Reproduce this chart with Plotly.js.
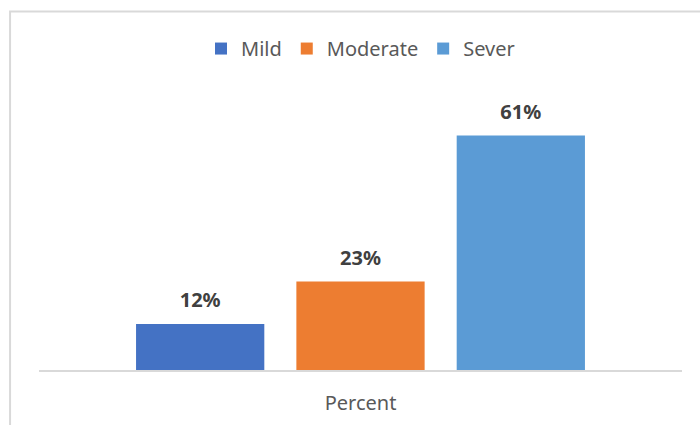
<!DOCTYPE html>
<html>
<head>
<meta charset="utf-8">
<script src="https://cdn.plot.ly/plotly-3.0.1.min.js"></script>
<style>
  html, body { margin: 0; padding: 0; background: #ffffff; }
  #chart { width: 700px; height: 425px; }
</style>
</head>
<body>
<div id="chart"></div>
<script>
// ---- data ----
const categories = ['Percent'];
const seriesNames = ['Mild', 'Moderate', 'Sever'];
const seriesValues = [12, 23, 61];
const seriesColors = ['#4472C4', '#ED7D31', '#5B9BD5'];

const FONT = '"Noto Sans", "Open Sans", sans-serif';
const GAP = 0.252;

const traces = [];
seriesNames.forEach((name, i) => {
  traces.push({
    type: 'bar',
    name: name,
    x: categories,
    y: [seriesValues[i]],
    marker: { color: seriesColors[i] },
    hoverinfo: 'skip'
  });
});
// value labels, grouped to match the bars
seriesNames.forEach((name, i) => {
  traces.push({
    type: 'scatter',
    mode: 'markers+text',
    x: categories,
    y: [seriesValues[i]],
    text: [seriesValues[i] + '%'],
    textposition: 'top center',
    textfont: { family: FONT, size: 20, color: '#404040', weight: 'bold' },
    marker: { size: 17.6, opacity: 0 },
    showlegend: false,
    hoverinfo: 'skip',
    cliponaxis: false
  });
});

const layout = {
  width: 700,
  height: 425,
  margin: { l: 39, r: 18, t: 101, b: 55 },
  paper_bgcolor: '#ffffff',
  plot_bgcolor: 'rgba(0,0,0,0)',
  barmode: 'group',
  bargap: GAP,
  bargroupgap: 0.2,
  scattermode: 'group',
  scattergap: GAP,
  showlegend: true,
  legend: {
    orientation: 'h',
    x: 0.5, xanchor: 'center',
    y: 1.195, yanchor: 'middle',
    font: { family: FONT, size: 20, color: '#595959' },
    bgcolor: 'rgba(0,0,0,0)'
  },
  xaxis: {
    type: 'category',
    showline: true,
    linecolor: '#d9d9d9',
    linewidth: 1.5,
    showgrid: false,
    zeroline: false,
    ticks: '',
    ticklabelstandoff: 14,
    tickfont: { family: FONT, size: 20, color: '#595959' },
    fixedrange: true
  },
  yaxis: {
    range: [0, 70],
    visible: false,
    showgrid: false,
    zeroline: false,
    fixedrange: true
  },
  shapes: [
    {
      type: 'path',
      xref: 'paper', yref: 'paper',
      path: 'M -0.045,-1 L -0.045,1.333 L 2,1.333',
      line: { color: '#d9d9d9', width: 2 },
      layer: 'below'
    }
  ]
};

Plotly.newPlot('chart', traces, layout, { displayModeBar: false, staticPlot: true });
</script>
</body>
</html>
